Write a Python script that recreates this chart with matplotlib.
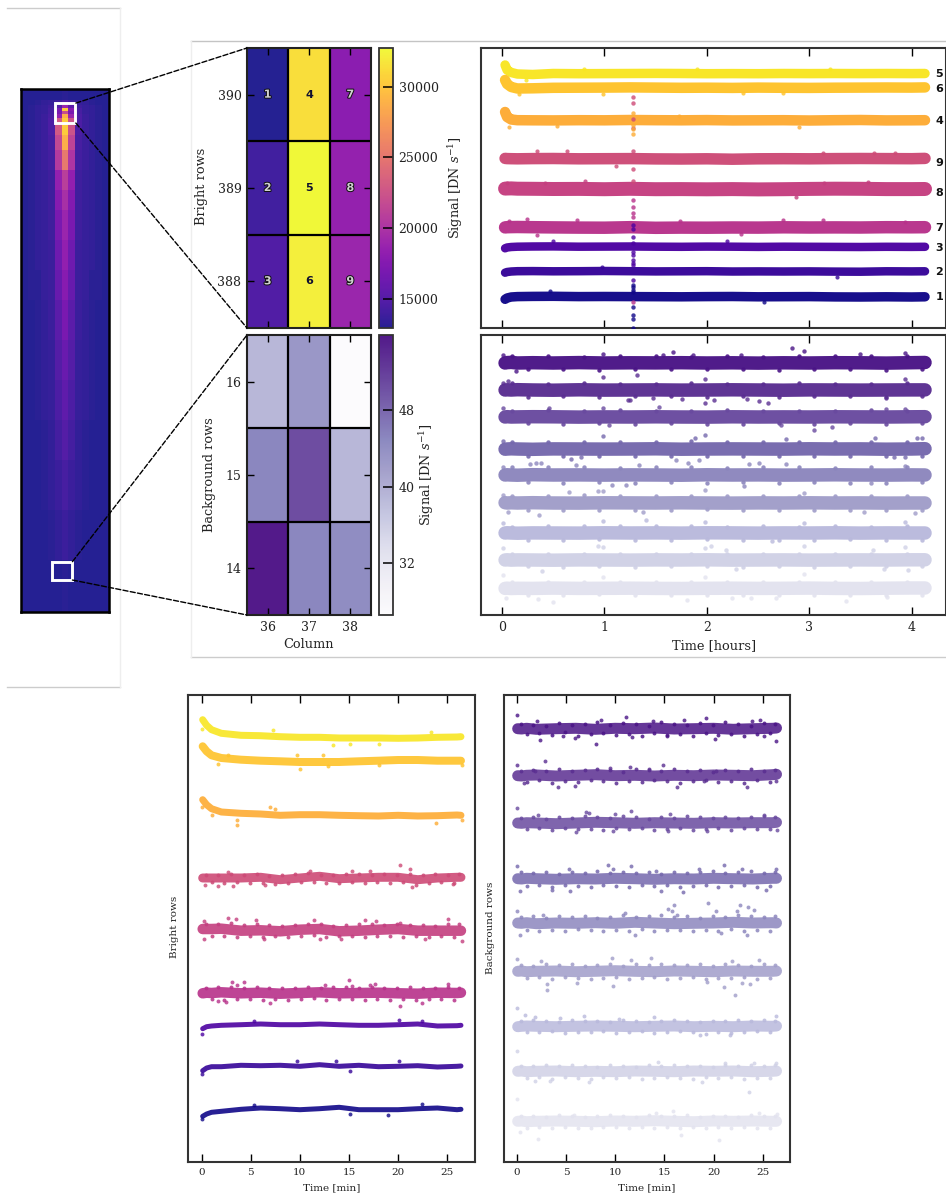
import numpy as np
import matplotlib
matplotlib.use('Agg')
import matplotlib.pyplot as plt
import matplotlib.patheffects as pe
from matplotlib.lines import Line2D
from matplotlib.patches import ConnectionPatch, Rectangle

plt.rcParams['font.family'] = 'DejaVu Serif'
plt.rcParams['mathtext.fontset'] = 'dejavuserif'

W, H = 946, 1195

# full detector image, signal as fraction of the colour scale
image_cols = [30.5 + i for i in range(14)]
image_rows = [408.5, 399.5, 395.4, 393, 390.5, 388.1, 384.8, 370.9, 358.7, 342.3, 326, 309.7, 285.2, 260.7, 236.2,
              203.6, 170.9, 138.3, 105.6, 64.8, 24, -18.5]
image_vals = [
    [.00, .00, .00, .00, .00, .00, .01, .00, .00, .00, .00, .00, .00],
    [.00, .00, .01, .02, .03, .05, .08, .05, .03, .02, .01, .00, .00],
    [.00, .01, .02, .03, .05, .10, .30, .12, .05, .03, .02, .01, .00],
    [.00, .01, .02, .03, .06, .20, .88, .24, .07, .03, .02, .01, .00],
    [.00, .01, .02, .03, .06, .20, .45, .20, .07, .03, .02, .01, .00],
    [.00, .01, .02, .04, .07, .28, .80, .30, .08, .04, .02, .01, .00],
    [.00, .01, .02, .04, .08, .50, .88, .48, .08, .04, .02, .01, .00],
    [.00, .01, .02, .04, .07, .44, .80, .42, .07, .04, .02, .01, .00],
    [.00, .01, .02, .04, .06, .38, .62, .36, .06, .04, .02, .01, .00],
    [.00, .01, .02, .03, .05, .28, .40, .27, .05, .03, .02, .01, .00],
    [.00, .01, .02, .03, .05, .24, .34, .23, .05, .03, .02, .01, .00],
    [.00, .01, .02, .03, .05, .20, .30, .20, .05, .03, .02, .01, .00],
    [.00, .01, .02, .03, .04, .17, .27, .17, .04, .03, .02, .01, .00],
    [.00, .01, .01, .03, .04, .15, .24, .15, .04, .03, .01, .01, .00],
    [.00, .00, .01, .02, .04, .12, .20, .12, .04, .02, .01, .00, .00],
    [.00, .00, .01, .02, .03, .10, .16, .10, .03, .02, .01, .00, .00],
    [.00, .00, .01, .02, .03, .08, .13, .08, .03, .02, .01, .00, .00],
    [.00, .00, .00, .01, .02, .06, .10, .06, .02, .01, .00, .00, .00],
    [.00, .00, .00, .01, .02, .04, .07, .04, .02, .01, .00, .00, .00],
    [.00, .00, .00, .00, .01, .02, .04, .02, .01, .00, .00, .00, .00],
    [.00, .00, .00, .00, .00, .00, .01, .00, .00, .00, .00, .00, .00],
]

# zoomed pixels
columns = [36, 37, 38]
bright_rows = [388, 389, 390]
bg_rows = [14, 15, 16]
bright_vals = [[14800, 32240, 18900], [14000, 32733, 18500], [12950, 31350, 17900]]
bg_vals = [[55.8, 45, 44.5], [45, 50.5, 39], [39, 43, 26.6]]
bright_ids = [[3, 6, 9], [2, 5, 8], [1, 4, 7]]
bright_ticks = [15000, 20000, 25000, 30000]
bg_ticks = [32, 40, 48]

# 4 hour light curves, relative signal
hours = [.03, .05, .09, .15, .3, .5, .75, 1, 1.25, 1.5, 1.75, 2, 2.25, 2.5, 2.75, 3, 3.25, 3.5, 3.75, 4, 4.13]
h5 = [263, 258, 255.5, 254, 253.5, 254.5, 254.3, 254.4, 254.5, 254.6, 254.5, 254.3, 254.4, 254.3, 254.5, 254.4, 254.5, 254.4, 254.5, 254.4, 254.5]
h6 = [248, 244, 241, 239.5, 239.7, 240.2, 240.3, 240.4, 240.6, 240.4, 240.2, 240.3, 240.1, 240.4, 240.2, 240.1, 240.3, 240.4, 240.5, 240.4, 240.6]
h4 = [216, 211, 208.5, 207.8, 207.7, 207.6, 207.8, 207.7, 208, 207.8, 207.7, 207.9, 207.6, 207.7, 207.8, 207.5, 207.8, 208, 207.6, 207.7, 207.8]
h9 = [169.6, 169.4, 169.3, 169.2, 169.4, 169.5, 169.2, 169.3, 169.4, 169.1, 169, 169.2, 168.8, 169.2, 169.3, 169.2, 169.4, 169.5, 169.4, 169.3, 169.6]
h8 = [139.4, 139.5, 139.6, 139.3, 139.2, 139, 139.1, 138.8, 139.2, 138.8, 138.9, 138.7, 138.9, 138.6, 138.8, 139.1, 139.3, 139.2, 138.9, 138.9, 139]
h7 = [100.6, 100.8, 100.9, 101, 100.8, 100.6, 100.4, 100.3, 100.8, 100.2, 100.4, 100.3, 100.5, 100.4, 100.7, 100.5, 100.6, 100.5, 100.8, 100.7, 100.8]
h3 = [79.7, 80.5, 81, 81.3, 81.5, 81.6, 81.3, 81.4, 81.5, 81.3, 81.2, 81.4, 81.3, 81.1, 81.3, 81.2, 81.1, 81, 81.2, 81.1, 81.2]
h2 = [55.3, 56, 56.5, 56.8, 56.9, 56.7, 56.8, 57, 56.8, 56.6, 56.7, 56.8, 56.5, 56.6, 56.5, 56.6, 56.4, 56.3, 56.7, 56.6, 56.7]
h1 = [28.7, 30, 31, 31.4, 31.6, 31.7, 31.4, 31.5, 31.4, 31.3, 31.2, 31.4, 31.5, 31.2, 31.3, 31.4, 31.1, 31, 31.2, 31, 31.2]

h5_t = [.23, .8, 1.9, 3.2]
h5_y = [248, 259, 259.5, 259.3]
h6_t = [.17, .99, 2.35, 2.74]
h6_y = [234, 234, 234.7, 234.7]
h4_t = [.07, .54, 2.9, 1.73]
h4_y = [200.7, 202, 201.3, 212]
h9_t = [.34, .63, 1.11, 3.13, 3.63, 3.84]
h9_y = [177.3, 176.7, 162.3, 175.3, 174.7, 175.3]
h8_t = [.81, .05, 2.87, 3.57, .42, 3.14]
h8_y = [147, 145.3, 130.7, 146, 145.3, 144.7]
h7_t = [.24, .07, .73, 2.74, 3.13, .34, 1.74, 3.93, 2.33]
h7_y = [109.3, 107.3, 108, 108, 108, 93, 107.3, 106.3, 94]
h3_t = [.5, 2.2]
h3_y = [87, 86.5]
h2_t = [.98, 3.27]
h2_y = [61.3, 51.3]
h1_t = [2.56, .47]
h1_y = [26.3, 36.5]

# the single frame at 1.28 h where all the bright pixels jump
spike_t = 1.277
spike_pink = [231.3, 224.7, 208.7, 199.7, 177.3, 158.7, 147.3]
spike_orange = [214.7, 203, 198.7, 194]
spike_magenta = [128, 121.3, 114.7, 111.3, 26.3]
spike_purple = [103, 99, 91.3, 84.7, 76.3, 73, 68, 65, 63, 48]
spike_navy = [43, 41.3, 38, 36, 21.3, 13, 8.7, .3]

hb1 = [252, 252.4, 252.6, 252, 252.3, 252, 252.4, 252, 252.2, 252.1, 252.3, 252, 252.2, 251.9, 252.2, 252, 252.3, 252.2, 251.9, 252.3, 252.5]
hb2 = [225, 225.2, 225, 225.3, 225, 224.8, 225.2, 224.9, 225, 225.1, 224.9, 225, 225.2, 225, 224.8, 225.1, 225, 224.9, 225, 225.1, 225.1]
hb3 = [198, 198.3, 198, 198.1, 198.3, 198.2, 197.9, 198.1, 198, 198.2, 198, 197.9, 198.2, 198, 198.1, 198, 198.2, 198.1, 198, 198.2, 198.3]
hb4 = [165.8, 166, 166.2, 166, 165.7, 166.1, 166, 165.9, 166, 166.2, 165.8, 166, 166.1, 166, 165.9, 166.2, 166, 166.1, 165.8, 166, 166.3]
hb5 = [140, 140.2, 140, 139.8, 140.3, 140, 140.1, 139.9, 140.1, 140, 139.8, 140.2, 140, 140.1, 139.9, 140, 140.2, 140, 139.9, 140.1, 140]
hb6 = [112.3, 112, 112.2, 112, 112.3, 112, 111.9, 112.2, 112.1, 112, 112.2, 112, 111.9, 112.1, 112, 112.2, 112, 112.1, 111.9, 112, 112]
hb7 = [82, 82.2, 82, 81.8, 82.1, 82, 81.9, 82.2, 82, 82.1, 81.9, 82.2, 82.1, 81.9, 82.1, 82, 82.2, 81.9, 82.1, 82, 82]
hb8 = [55, 55.2, 54.9, 55.1, 55, 54.8, 55.1, 55, 54.9, 55.1, 55, 55.2, 54.9, 55, 55.1, 54.9, 55, 55.1, 55, 55.2, 55.2]
hb9 = [26.6, 26.8, 26.5, 26.7, 26.6, 26.9, 26.6, 26.7, 26.8, 26.6, 26.5, 26.7, 26.8, 26.6, 26.7, 26.9, 26.6, 26.5, 26.8, 27, 27]

hb1_t = [2.83, 2.95, 1.67, 1.57, .99, .01, 3.5, 3.93, .14, 1.86, 2.33]
hb1_y = [267, 263.7, 262.7, 260.3, 261, 260, 261, 262, 243.7, 260.3, 260.3]
hb2_t = [.99, 1.32, 1.98, 3.93, .06, .01, 1.23, 1.25, 1.47, 1.76, 1.98, 2.07, 2.39, 2.51, 2.6, 3.75]
hb2_y = [237.7, 240, 236, 236, 233.7, 231.7, 215, 215, 216.7, 216, 211.7, 215, 216, 213.7, 211.7, 216.7]
hb3_t = [.01, 1.53, .46, .99, 1.04, 3.05, 3.22, 2.72, 3.75, 3.93]
hb3_y = [206.7, 208.3, 206.7, 207, 189.7, 185, 188.3, 190.3, 206, 206]
hb4_t = [.99, 1.98, 1.88, .01, 3.64, 4.05, 4.1, .67, .77, 3.83, 3.93, 2.77]
hb4_y = [179, 180.3, 176.7, 173.7, 177, 176.7, 177, 156, 157.7, 157.7, 157.7, 176]
hb5_t = [.27, .33, .38, .72, 1.34, 1.7, 1.82, 1.92, 2.51, 2.41, 2.77, 1.07, 1.21, 2.36, 3.6, .01, 3.93]
hb5_y = [151, 152, 152, 150.3, 150.3, 155, 151.7, 155, 152, 151, 151, 130.3, 130.3, 128.7, 131.7, 148.3, 149.3]
hb6_t = [.65, .94, .99, 1.98, 2.95, .06, .36, 3.53, 4.03, .01, 1.38]
hb6_y = [122.7, 124.3, 124.3, 125, 121.7, 102.7, 100, 102.7, 102, 120.3, 103.3]
hb7_t = [.01, 1.41, .99, 1.98, 2.95, 3.93, 2.64]
hb7_y = [92, 95, 94.3, 93.3, 92, 92.7, 73.7]
hb8_t = [.01, .94, .99, 1.98, 2.04, 2.19, 2.95, 3.62, 3.93, .39, 2.28, 3.73, 3.96]
hb8_y = [67.3, 69.3, 68.3, 67.3, 68.7, 65, 68.7, 65, 67.7, 44.3, 45.7, 46.3, 45]
hb9_t = [.01, .99, 1.98, 2.95, .04, .35, .5, 1.81, 2.25, 2.43, 2.68, 3.36, 3.76]
hb9_y = [40.3, 37.7, 37.7, 41, 16.7, 16, 12.7, 15, 16.7, 16.7, 16.7, 13.7, 17.7]

# upper and lower edges of the 4 hour background bands
hb_up_t = [.1, .45, .8, 1.15, 1.5, 1.85, 2.2, 2.55, 2.9, 3.25, 3.6, 3.95]
hb_dn_t = [.25, .6, .95, 1.3, 1.65, 2, 2.35, 2.7, 3.05, 3.4, 3.75, 4.1]
hb1_up = [258.5, 259, 258.3, 259.2, 258.6, 258.4, 259, 258.3, 258.8, 258.5, 258.9, 259]
hb1_dn = [245.5, 246, 245.3, 246.1, 245.6, 245.8, 246, 245.4, 245.9, 245.5, 245.2, 245.7]
hb2_up = [231.5, 231, 231.8, 231.3, 231, 231.7, 231.2, 230.9, 231.6, 231.3, 231, 231.5]
hb2_dn = [218.4, 218.8, 218.2, 218.9, 218.5, 218.3, 218.7, 218.1, 218.6, 218.9, 218.4, 218.6]
hb3_up = [204.2, 204.6, 204, 204.7, 204.2, 203.9, 204.5, 204, 204.4, 203.8, 204.6, 204.3]
hb3_dn = [191.6, 191.3, 191.8, 191.2, 191.7, 191.4, 191, 191.6, 191.2, 191.8, 191.4, 191.5]
hb4_up = [173, 173.4, 172.8, 173.2, 172.7, 173.5, 173, 172.6, 173.3, 172.9, 173.4, 173]
hb4_dn = [159, 158.6, 159.2, 158.8, 159.3, 158.7, 159.1, 158.5, 159, 159.2, 158.7, 159]
hb5_up = [147.5, 147.9, 148.2, 147.4, 148, 147.6, 147.3, 148.1, 147.7, 147.3, 148, 147.8]
hb5_dn = [132.5, 132.1, 132.8, 132.3, 132.7, 132, 132.6, 132.2, 132.8, 132.4, 132.1, 132.6]
hb6_up = [119.3, 118.9, 119.5, 119, 119.4, 118.8, 119.2, 118.7, 119.3, 119, 119.4, 119.1]
hb6_dn = [105, 105.4, 104.8, 105.3, 104.9, 105.5, 105, 104.7, 105.2, 105.4, 104.9, 105.1]
hb7_up = [88.5, 88.9, 89, 88.7, 89.2, 88.6, 88.4, 88.9, 88.5, 88.7, 88.3, 88.9]
hb7_dn = [75.5, 75.2, 75.7, 75.1, 75.4, 75.6, 75, 75.5, 75.2, 75.6, 75.3, 75.4]
hb8_up = [61, 61.4, 60.8, 61.3, 61, 60.7, 61.2, 60.9, 61.4, 61, 60.8, 61.2]
hb8_dn = [48.8, 48.5, 49, 48.4, 48.7, 48.9, 48.5, 48.8, 48.3, 48.9, 48.6, 48.7]
hb9_up = [33, 33.4, 32.8, 33.2, 32.9, 33.5, 33, 32.7, 33.3, 33, 33.2, 32.9]
hb9_dn = [20.4, 20.1, 20.6, 20, 20.3, 20.5, 20.1, 20.4, 20, 20.5, 20.2, 20.3]

# first 26 minutes
minutes = [.1, .5, 1, 2, 4, 6, 8, 10, 12, 14, 16, 18, 20, 22, 24, 26, 26.4]
m5 = [442.3, 436.7, 432.3, 428.7, 426.7, 426.3, 425.3, 424.7, 424.7, 424, 424, 424, 423.7, 424, 424.7, 425, 425.3]
m6 = [415.7, 410.7, 406.7, 404, 402.3, 401.3, 400.7, 400, 400, 400, 400.7, 401.3, 402, 402, 401.3, 401.3, 401.3]
m4 = [362.3, 357.3, 353.3, 350, 348.7, 348, 346.7, 347.3, 347.3, 346.7, 346.3, 346, 346.7, 346, 346.3, 347, 346.7]
m9 = [284, 284, 284, 284, 284, 284.7, 282.3, 284, 285.7, 283.3, 284, 284.7, 284.7, 282.3, 284, 284.7, 284.7]
m8 = [233, 233, 233, 233.3, 231.3, 231.7, 230.7, 232.3, 233, 230.7, 231.3, 232.3, 233, 231.3, 231.3, 231.3, 231.3]
m7 = [168.7, 169.3, 169, 169.7, 168.7, 169.3, 168.3, 169, 169.7, 168.7, 169, 169.3, 168.7, 168.3, 169.3, 169, 169.3]
m3 = [133.3, 135.3, 136, 136.7, 137.3, 138, 137.3, 137.3, 138, 137.3, 136.7, 136.7, 137.3, 138, 136, 136.3, 136.7]
m2 = [91.3, 94, 95.3, 95.3, 96.7, 96.3, 96.7, 95.7, 97.3, 95.7, 96.7, 95.3, 95.7, 96.3, 95, 95.7, 96]
m1 = [45.7, 48, 49.7, 50.7, 52.7, 54, 53.3, 52.3, 53.3, 54.7, 52.3, 52.3, 52.3, 53.3, 54, 52.3, 52.7]

m5_t = [0, 13.4, 18.1, 23.4, 15.1, 7.3]
m5_y = [433, 416.7, 418, 429.7, 418, 431.7]
m6_t = [10, 12.9, 1.7, 2.7, 26.5, 18.1, 9.7, 12.4]
m6_y = [393.3, 395.7, 398.3, 406.7, 397.3, 397.3, 406.7, 406.7]
m4_t = [0, 3.6, 3.6, 1, 23.9, 26.5, 7, 7.5]
m4_y = [355, 337.3, 342.3, 346.7, 339, 342.3, 354.7, 353]
m9_t = [20.2, 21.2, 21.4, .3, 1.7, 3.2, 2.7, 11, 15.3, 17.1, 6.4, 25.6]
m9_y = [297.3, 293, 275, 276.7, 276.3, 276.3, 289.7, 291.3, 291.3, 290.7, 277.3, 278]
m8_t = [2.7, 3.5, .2, 5.5, 11.4, 16.6, 25.1, .2, 12, 14.2, 6.3, 26.5, 20.2, 17.7, 22.7]
m8_y = [244, 243.3, 241.3, 241.7, 241.7, 241.7, 243.3, 223, 223.3, 223.3, 223.3, 221.3, 239, 241.3, 223.3]
m7_t = [3.1, 4.3, 3.6, 15, 12.6, 17.6, 25.1, 20.2, 7, 2.5, 1.7, 22.4, 17.1, 15.3]
m7_y = [180, 179.7, 177.3, 182.3, 177.3, 178.3, 178, 156.3, 159, 160, 160.7, 159, 177.3, 175.7]
m3_t = [0, 20.1, 5.3, 22.4]
m3_y = [128, 142.3, 141.3, 140.7]
m2_t = [0, 20.1, 9.7, 13.7, 15.1]
m2_y = [88, 101.3, 100.7, 101.3, 90.7]
m1_t = [0, 19, 15.1, 5.3, 22.4]
m1_y = [43, 47.3, 48.3, 57.3, 58]

mb1 = [433.3, 433, 433.7, 432.7, 433.3, 433.7, 432.7, 433.7, 433.3, 434, 433, 433.3, 433.7, 432.7, 433.3, 433.7, 434]
mb2 = [386.3, 386, 386.7, 387, 386, 386.7, 387.3, 386.3, 386.7, 386, 386.7, 386.3, 387, 386.7, 386.3, 387.3, 387.7]
mb3 = [339, 338.7, 339.3, 339, 338.3, 339, 339.7, 339.3, 338.7, 339.3, 339, 338.7, 339.3, 339, 339.3, 339.3, 339.7]
mb4 = [283.3, 283, 283.7, 283.3, 282.7, 283.3, 283, 283.7, 283.3, 282.7, 283.3, 283, 283.7, 283.3, 283, 283.7, 283.7]
mb5 = [239, 238.7, 239.3, 238.3, 239, 238.7, 239.3, 238.7, 239.7, 239, 238.3, 238.7, 239, 239.7, 239, 239.3, 239]
mb6 = [190.7, 191, 190.3, 190.7, 191, 190.3, 190.7, 191.3, 190.7, 190.3, 191, 190.7, 190.3, 191, 190.7, 190.7, 191]
mb7 = [135.3, 135.7, 136, 135.7, 135.3, 135.7, 136, 135.7, 135.3, 135.7, 136, 135.3, 135.7, 135.3, 136, 135.7, 136]
mb8 = [90.7, 91, 90.3, 90.7, 91, 90.3, 90.7, 90.3, 91, 90.7, 90.3, 91, 90.7, 91, 90.3, 90.7, 91]
mb9 = [40.7, 41, 40.3, 40.7, 41, 40.7, 40.3, 41, 40.7, 41.3, 40.7, 40.3, 41, 40.7, 41, 40.7, 40.7]

mb1_t = [.07, 2.1, 8.6, 11.1, 8.1, 2.4, 5.9, 19.2, 24.7, 26.3, 17, 13.9, 11.7, 15.3, 20.2, 23.9, 25.1, 4.7]
mb1_y = [446.7, 441.3, 442.3, 444.7, 418, 422.3, 424, 443.7, 442.3, 421.3, 442.3, 441.3, 424.7, 425.7, 423.3, 441.3, 425.7, 425.7]
mb2_t = [.07, 2.9, 14.9, 4.2, 5.9, 16.3, 23.4, 9.5, 11.5, 13.4, .7, 26.3, 1.9, 20.3, 19]
mb2_y = [397.3, 400.7, 396.7, 374.7, 375.7, 374.7, 374.7, 394, 394.7, 393.3, 379, 380.7, 391.3, 391.3, 380.7]
mb3_t = [.07, 7, 7.3, 10, 11.6, 15.6, 25.1, 2.2, 6, 9.8, 15.4, 19.3, 26.4]
mb3_y = [354, 349.7, 349, 348, 350.7, 348, 347.3, 346.7, 330, 331.3, 330.7, 330.7, 332.3]
mb4_t = [.07, 5.3, 9.3, 9.8, 11.6, 14.2, 18.5, 21.1, 26.3, .3, 5.4, 14.7, 16.9, 25.3, 3.6, 22.9]
mb4_y = [296.3, 293.3, 296.7, 293.3, 295.7, 290.7, 293, 296.7, 293.3, 270.7, 271.3, 271.3, 270, 272.3, 272.3, 293]
mb5_t = [.07, 15.4, 16, 15.8, 19.4, 20.3, 22.7, 22.4, 23.5, 24.1, 11, .3, 12, 23.4, 16.3, 2.7, 20.8]
mb5_y = [250.7, 253.3, 256.7, 251.3, 258.7, 251.3, 257.3, 250.7, 254.7, 252.3, 249, 226.7, 226.7, 227.3, 247.3, 246.7, 229]
mb6_t = [.07, 2.5, 9.7, 11.6, 13.6, 21.9, 24.6, 3.1, 3.1, 9.8, 19.3, 21.1, 22.2, 23.7, 22.9, 6.1]
mb6_y = [203, 200.7, 204, 202, 204, 201.3, 202, 178, 172.3, 176.3, 179.7, 174.7, 167.3, 178, 179, 179]
mb7_t = [.07, .8, 1.9, 6.8, 10.4, 14, 26.3, 21.7, 18.6, 4.4]
mb7_y = [154, 147.3, 144.7, 145.7, 143, 144.7, 145.7, 126.7, 127.3, 144]
mb8_t = [.07, 14.4, 21.2, 24.1, 23.6, 7.3, 3.4, 18.8, 1.9, 26.3]
mb8_y = [110.7, 100, 99, 99, 70, 79.7, 80.7, 80, 80.7, 99]
mb9_t = [.07, 2.2, 16.7, 20.6, .3, 15.9, 14.2, 24.6, 26.4, 5.8]
mb9_y = [63.3, 23, 26.7, 21.7, 30, 51.3, 49, 49, 48, 47.3]

# upper and lower edges of the speckled 26 minute bands
m_up_t = [.4, 1.7, 3, 4.3, 5.6, 6.9, 8.2, 9.5, 10.8, 12.1, 13.4, 14.7, 16, 17.3, 18.6, 19.9, 21.2, 22.5, 23.8, 25.1, 26.2]
m_dn_t = [1, 2.3, 3.6, 4.9, 6.2, 7.5, 8.8, 10.1, 11.4, 12.7, 14, 15.3, 16.6, 17.9, 19.2, 20.5, 21.8, 23.1, 24.4, 25.7]
m9_up = [287.5, 287, 288.5, 287, 288, 286.5, 287, 288, 289.5, 287.5, 287, 288.5, 288, 287, 288, 287.5, 288.5, 287, 288, 287.5, 288]
m9_dn = [280, 279, 280.5, 279.5, 279, 278.5, 279.5, 280, 280.5, 279.5, 279, 280, 279.5, 280, 279, 280, 277.5, 279, 280, 279.5]
m8_up = [238, 238.5, 239.5, 237.5, 238, 237, 236.5, 237.5, 238.5, 238, 236.5, 237, 238, 238.5, 237, 238.5, 237.5, 237, 236.5, 238, 238]
m8_dn = [226, 226.5, 225.5, 226, 225, 226, 225.5, 226.5, 227, 225.5, 226, 226.5, 225.5, 226, 226.5, 225.5, 226, 225, 226, 225]
m7_up = [174, 175, 175.5, 174.5, 175, 174, 174, 174.5, 175, 174, 175, 175.5, 174.5, 175, 174, 174.5, 175, 174.5, 174, 175, 174.5]
m7_dn = [163, 162.5, 163.5, 163, 162, 163, 162.5, 163, 164, 162.5, 163, 163.5, 162.5, 163, 162, 163, 162, 163, 163.5, 162.5]
mb1_up = [438, 437, 436, 439, 437.5, 438, 440, 437, 439, 438, 436.5, 440, 438, 437, 439, 437.5, 440, 438, 436.5, 439, 438]
mb1_dn = [428, 429, 427, 430, 426.5, 428, 429.5, 427, 428.5, 426.5, 429, 427.5, 428, 426, 429, 427.5, 428.5, 426.5, 428, 429]
mb2_up = [391, 392.5, 391, 393, 391.5, 392, 393.5, 392, 390.5, 393, 392.5, 391, 393, 391.5, 392, 390.5, 392.5, 391, 393, 391.5, 392]
mb2_dn = [380.5, 382, 379.5, 381, 380, 382, 381, 379.5, 381.5, 380, 382, 381, 379.5, 381, 382, 380.5, 381, 379.5, 382, 380.5]
mb3_up = [344.5, 345, 343.5, 345.5, 344, 346, 345, 344, 346, 345, 343.5, 345.5, 344.5, 346, 345, 344, 345.5, 344, 345, 346, 345]
mb3_dn = [333, 334, 332.5, 334.5, 333, 333.5, 332, 334, 333, 334.5, 332.5, 333.5, 334, 332.5, 333, 334, 332.5, 334, 333, 333.5]
mb4_up = [290, 289, 290.5, 288.5, 290, 289.5, 291, 289, 290.5, 289, 290, 288.5, 290.5, 289.5, 290, 291, 289, 290, 291, 289.5, 290]
mb4_dn = [276, 277.5, 275.5, 277, 276, 275, 277, 276.5, 275.5, 277, 276, 277.5, 275, 276.5, 277, 275.5, 276.5, 277, 275.5, 276]
mb5_up = [245.5, 246, 244.5, 246.5, 245, 246, 244.5, 245.5, 247, 245, 246.5, 247, 245, 246, 244.5, 246, 245.5, 247, 246, 245, 246]
mb5_dn = [232, 231, 232.5, 231.5, 233, 232, 231, 232.5, 231.5, 233, 231, 232, 232.5, 231, 232, 231.5, 233, 231.5, 232, 231]
mb6_up = [197.5, 196.5, 198, 197, 198.5, 196.5, 197.5, 198, 196.5, 198, 197, 198.5, 197.5, 197, 198, 196.5, 198, 197, 196.5, 198, 197.5]
mb6_dn = [184, 185, 183.5, 185, 184, 183, 184.5, 185, 183.5, 184.5, 185, 183.5, 184, 185, 183.5, 184.5, 184, 185, 183.5, 184]
mb7_up = [141, 142, 141.5, 140.5, 142, 141, 141.5, 140.5, 142, 141, 140.5, 141.5, 142, 141, 140.5, 141.5, 141, 142, 141, 142.5, 141.5]
mb7_dn = [130.5, 130, 131, 129.5, 130.5, 130, 131, 129.5, 130.5, 131, 129.5, 130, 131, 130, 128.5, 130.5, 129, 130, 131, 130]
mb8_up = [96.5, 96, 97, 96, 97, 96.5, 95.5, 97, 96.5, 95.5, 97, 96, 97.5, 96, 96.5, 95.5, 97, 96, 97, 96.5, 97]
mb8_dn = [84, 85, 83.5, 85, 84.5, 83, 85, 84, 85, 83.5, 84.5, 85, 84, 83.5, 85, 84, 85, 83.5, 84.5, 84]
mb9_up = [46, 46.5, 45.5, 47, 46, 45.5, 46.5, 47, 46, 45.5, 47, 46.5, 46, 47, 45.5, 46.5, 46, 45.5, 47, 46.5, 46]
mb9_dn = [34.5, 35, 34, 35.5, 34.5, 34, 35, 35.5, 34, 35, 34.5, 35.5, 34, 35, 34.5, 35, 34, 35.5, 34.5, 34]

hour_ticks = [0, 1, 2, 3, 4]
minute_ticks = [0, 5, 10, 15, 20, 25]
curve_ids = ['5', '6', '4', '9', '8', '7', '3', '2', '1']
id_levels = [253.7, 239, 207, 165.3, 135, 100.3, 80.3, 56.3, 31.3]

bright_colors = ['#f8e622', '#fec229', '#fdab33', '#cd4a76', '#c43e7f', '#b7318a', '#4c02a1', '#350498', '#100788']
bg_colors = ['#4a1486', '#5a2e91', '#694a9f', '#7568ad', '#8c86bd', '#a09dc9', '#b9b9dc', '#d0d1e6', '#e3e3ef']


def axes_px(x0, y0, x1, y1):
    return fig.add_axes([x0 / W, 1 - y1 / H, (x1 - x0) / W, (y1 - y0) / H])


def label_px(x, y, s, size=9.3, rotation=0):
    fig.text(x / W, 1 - y / H, s, fontsize=size, rotation=rotation, ha='center', va='center', color='#222222')


def frame(ax, lw=1.5, color='#333333'):
    for sp in ax.spines.values():
        sp.set_linewidth(lw)
        sp.set_color(color)


def heatmap(ax, vals, rows, cmap, show_x):
    im = ax.imshow(vals, cmap=cmap, alpha=.9, aspect='auto', origin='lower',
                   extent=[35.5, 38.5, rows[0] - .5, rows[-1] + .5],
                   vmin=np.min(vals), vmax=np.max(vals))
    for c in [36.5, 37.5]:
        ax.axvline(c, color='k', lw=1.6)
    for r in [rows[0] + .5, rows[1] + .5]:
        ax.axhline(r, color='k', lw=1.6)
    ax.set_xticks(columns)
    ax.set_yticks(rows)
    ax.tick_params(direction='in', top=True, right=True, length=5, width=1, labelsize=9,
                   labelbottom=show_x, labelcolor='#222222', pad=4)
    frame(ax, 1.5, '#222222')
    return im


def colorbar(cax, im, ticks):
    cb = fig.colorbar(im, cax=cax)
    cb.set_ticks(ticks)
    cb.minorticks_off()
    cax.tick_params(direction='in', length=7, width=1.1, labelsize=9, labelcolor='#222222', pad=4)
    frame(cax, 1.3, '#333333')
    cb.outline.set_edgecolor('#333333')
    cb.outline.set_linewidth(1.3)


def curve(ax, t, y, pt_t, pt_y, color, lw_px, core_alpha, size):
    ax.plot(t, y, color=color, lw=lw_px * .72, alpha=core_alpha, solid_capstyle='round')
    ax.scatter(pt_t, pt_y, s=size, color=color, alpha=.8, linewidths=0)


def time_panel(ax, xlim, ylim, ticks, size):
    ax.set_xlim(xlim)
    ax.set_ylim(ylim)
    ax.set_xticks(ticks)
    ax.set_yticks([])
    ax.tick_params(direction='in', top=True, length=6, width=1, labelsize=size, labelcolor='#222222', pad=4)
    frame(ax)


fig = plt.figure(figsize=(W / 100, H / 100), dpi=100)

# light grey frames left around the sub figures
for x0, y0, x1, y1, c in [(7, 8, 120, 8, '#cccccc'), (7, 687, 120, 687, '#cccccc'), (120, 8, 120, 687, '#eeeeee'),
                          (191, 41, 946, 41, '#c4c4c4'), (191, 657, 946, 657, '#cccccc'), (191, 41, 191, 657, '#eeeeee')]:
    fig.add_artist(Line2D([x0 / W, x1 / W], [1 - y0 / H, 1 - y1 / H], color=c, lw=1))

# detector image
ax_img = axes_px(21, 89, 109, 612)
ax_img.pcolormesh(image_cols, image_rows, image_vals, cmap='plasma', vmin=0, vmax=1, alpha=.9, shading='flat')
ax_img.set_xlim(image_cols[0], image_cols[-1])
ax_img.set_ylim(image_rows[-1], image_rows[0])
ax_img.set_xticks([])
ax_img.set_yticks([])
frame(ax_img, 1.8, 'k')
ax_img.add_patch(Rectangle((35.45, 380.7), 3.1, 16.3, fill=False, ec='white', lw=2.1))
ax_img.add_patch(Rectangle((35.1, 7.6), 2.95, 15, fill=False, ec='white', lw=2.1))

# zoomed pixels
ax_b = axes_px(247, 48, 371, 328)
im_b = heatmap(ax_b, bright_vals, bright_rows, 'plasma', False)
for i, row in enumerate(bright_ids):
    for j, n in enumerate(row):
        light = j != 1
        txt = ax_b.text(columns[j], bright_rows[i], str(n), ha='center', va='center', fontsize=8,
                        family='DejaVu Sans', fontweight='bold', color='#d0d0d0' if light else '#101030')
        if light:
            txt.set_path_effects([pe.withStroke(linewidth=1.4, foreground='#111111')])
ax_g = axes_px(247, 335, 371, 615)
im_g = heatmap(ax_g, bg_vals, bg_rows, 'Purples', True)

colorbar(axes_px(379, 48, 393, 328), im_b, bright_ticks)
colorbar(axes_px(379, 335, 393, 615), im_g, bg_ticks)

label_px(201, 186, 'Bright rows', rotation=90)
label_px(210, 475, 'Background rows', rotation=90)
label_px(309, 645, 'Column')
label_px(456, 188, r'Signal [DN $s^{-1}$]', rotation=90)
label_px(427, 475, r'Signal [DN $s^{-1}$]', rotation=90)
label_px(714, 646, 'Time [hours]')
label_px(174, 927, 'Bright rows', size=7.5, rotation=90)
label_px(490.7, 928, 'Background rows', size=7.5, rotation=90)
label_px(331.7, 1188, 'Time [min]', size=7.5)
label_px(646.7, 1188, 'Time [min]', size=7.5)

# connectors
for xy, frac, target in [((38.6, 397), (0, 1), ax_b), ((38.6, 380.7), (0, 0), ax_b),
                         ((38.1, 22.6), (0, 1), ax_g), ((38.1, 7.6), (0, 0), ax_g)]:
    fig.add_artist(ConnectionPatch(xyA=xy, coordsA=ax_img.transData, xyB=frac, coordsB=target.transAxes,
                                   color='k', lw=1, ls='--', zorder=5))

# 4 hour curves
ax_h = axes_px(481, 48, 945.5, 328)
time_panel(ax_h, (-.205, 4.33), (0, 280), hour_ticks, 9)
ax_h.tick_params(labelbottom=False)
h_curves = [h5, h6, h4, h9, h8, h7, h3, h2, h1]
h_pts = [(h5_t, h5_y), (h6_t, h6_y), (h4_t, h4_y), (h9_t, h9_y), (h8_t, h8_y), (h7_t, h7_y), (h3_t, h3_y), (h2_t, h2_y), (h1_t, h1_y)]
h_widths = [9.5, 10.5, 10.5, 11.5, 14, 12.5, 8.5, 8.5, 9.5]
for y, pts, c, w in zip(h_curves, h_pts, bright_colors, h_widths):
    curve(ax_h, hours, y, pts[0], pts[1], c, w, .97, 9)
for vals, c in [(spike_pink, bright_colors[3]), (spike_orange, bright_colors[2]), (spike_magenta, bright_colors[5]),
                (spike_purple, bright_colors[6]), (spike_navy, bright_colors[8])]:
    ax_h.scatter([spike_t] * len(vals), vals, s=10, color=c, alpha=.8, linewidths=0, zorder=4)
for s, lev in zip(curve_ids, id_levels):
    ax_h.text(4.27, lev, s, ha='center', va='center', fontsize=8, family='DejaVu Sans', fontweight='bold', color='#111111')

ax_hb = axes_px(481, 335, 945.5, 615)
time_panel(ax_hb, (-.205, 4.33), (0, 280), hour_ticks, 9)
hb_curves = [hb1, hb2, hb3, hb4, hb5, hb6, hb7, hb8, hb9]
hb_pts = [(hb1_t, hb1_y), (hb2_t, hb2_y), (hb3_t, hb3_y), (hb4_t, hb4_y), (hb5_t, hb5_y), (hb6_t, hb6_y), (hb7_t, hb7_y), (hb8_t, hb8_y), (hb9_t, hb9_y)]
hb_ups = [hb1_up, hb2_up, hb3_up, hb4_up, hb5_up, hb6_up, hb7_up, hb8_up, hb9_up]
hb_dns = [hb1_dn, hb2_dn, hb3_dn, hb4_dn, hb5_dn, hb6_dn, hb7_dn, hb8_dn, hb9_dn]
for y, pts, c, up, dn in zip(hb_curves, hb_pts, bg_colors, hb_ups, hb_dns):
    curve(ax_hb, hours, y, pts[0], pts[1], c, 13.5, .97, 10)
    ax_hb.scatter(hb_up_t, up, s=10, color=c, alpha=.9, linewidths=0)
    ax_hb.scatter(hb_dn_t, dn, s=10, color=c, alpha=.9, linewidths=0)

# first 26 minutes
ax_m = axes_px(188, 695, 475, 1162)
time_panel(ax_m, (-1.395, 27.83), (0, 467), minute_ticks, 7.5)
m_curves = [m5, m6, m4, m9, m8, m7, m3, m2, m1]
m_pts = [(m5_t, m5_y), (m6_t, m6_y), (m4_t, m4_y), (m9_t, m9_y), (m8_t, m8_y), (m7_t, m7_y), (m3_t, m3_y), (m2_t, m2_y), (m1_t, m1_y)]
m_widths = [7, 8, 7, 9, 10.5, 10.5, 5, 5, 5]
for y, pts, c, w in zip(m_curves, m_pts, bright_colors, m_widths):
    curve(ax_m, minutes, y, pts[0], pts[1], c, w, .9, 8)
for up, dn, c in [(m9_up, m9_dn, bright_colors[3]), (m8_up, m8_dn, bright_colors[4]), (m7_up, m7_dn, bright_colors[5])]:
    ax_m.scatter(m_up_t, up, s=8, color=c, alpha=.85, linewidths=0)
    ax_m.scatter(m_dn_t, dn, s=8, color=c, alpha=.85, linewidths=0)

ax_mb = axes_px(504, 695, 790, 1162)
time_panel(ax_mb, (-1.29, 27.77), (0, 467), minute_ticks, 7.5)
mb_curves = [mb1, mb2, mb3, mb4, mb5, mb6, mb7, mb8, mb9]
mb_pts = [(mb1_t, mb1_y), (mb2_t, mb2_y), (mb3_t, mb3_y), (mb4_t, mb4_y), (mb5_t, mb5_y), (mb6_t, mb6_y), (mb7_t, mb7_y), (mb8_t, mb8_y), (mb9_t, mb9_y)]
mb_ups = [mb1_up, mb2_up, mb3_up, mb4_up, mb5_up, mb6_up, mb7_up, mb8_up, mb9_up]
mb_dns = [mb1_dn, mb2_dn, mb3_dn, mb4_dn, mb5_dn, mb6_dn, mb7_dn, mb8_dn, mb9_dn]
for y, pts, c, up, dn in zip(mb_curves, mb_pts, bg_colors, mb_ups, mb_dns):
    curve(ax_mb, minutes, y, pts[0], pts[1], c, 11, .85, 8)
    ax_mb.scatter(m_up_t, up, s=8, color=c, alpha=.85, linewidths=0)
    ax_mb.scatter(m_dn_t, dn, s=8, color=c, alpha=.85, linewidths=0)

plt.savefig('out.png', dpi=100)
